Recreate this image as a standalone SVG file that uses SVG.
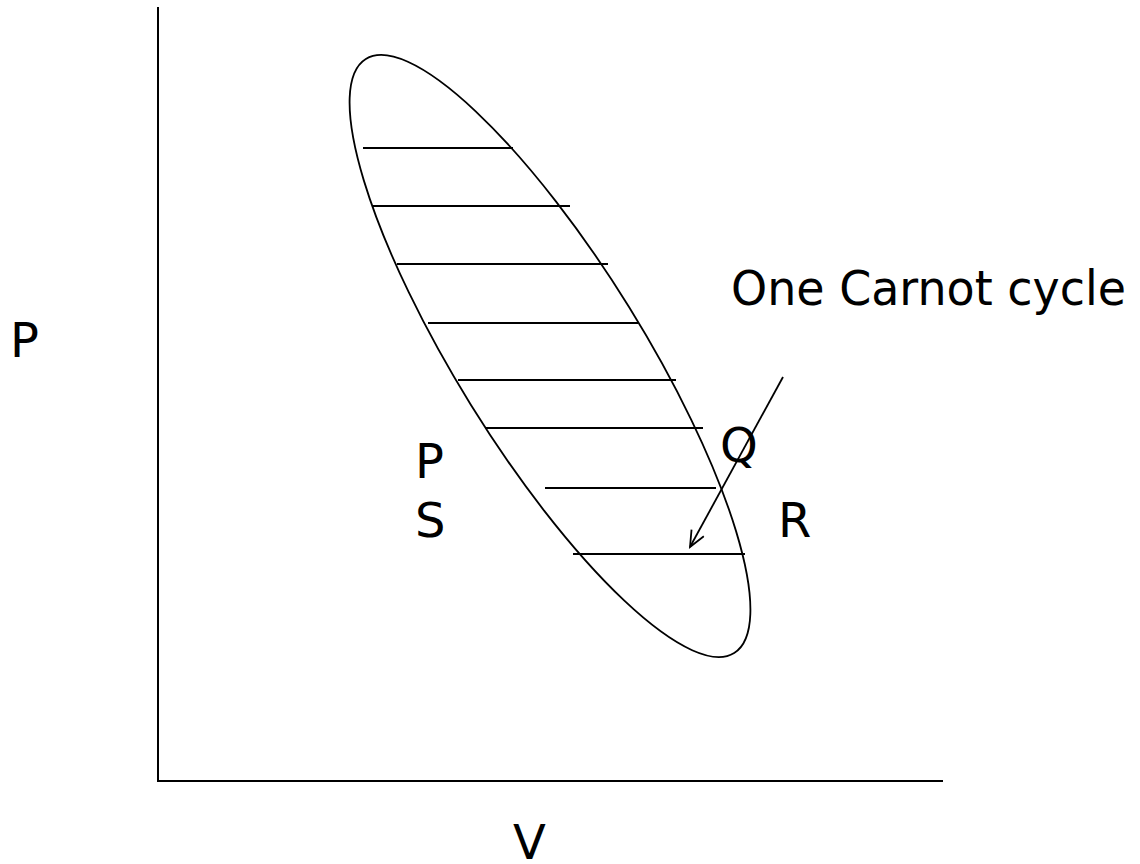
<svg xmlns="http://www.w3.org/2000/svg" width="1140" height="864" viewBox="0 0 1140 864">
<style>
.ln{stroke:#000;stroke-width:2;fill:none}
.th{stroke:#000;stroke-width:1.8;fill:none}
.t{font-family:"DejaVu Sans","Liberation Sans",sans-serif;font-size:48px;fill:#000}
</style>
<defs>
<marker id="arr" markerWidth="20" markerHeight="20" refX="17" refY="8" orient="auto" markerUnits="userSpaceOnUse">
<path d="M1,1 L17,8 L1,15" fill="none" stroke="#000" stroke-width="1.8"/>
</marker>
</defs>
<rect width="1140" height="864" fill="#fff"/>
<g id="axes">
<line class="ln" x1="158" y1="7" x2="158" y2="781"/>
<line class="ln" x1="157" y1="781" x2="943" y2="781"/>
</g>
<g id="cycle">
<ellipse class="th" cx="550" cy="356" rx="349.5" ry="93" transform="rotate(58.2 550 356)"/>
<line class="ln" x1="363" y1="148" x2="513" y2="148"/>
<line class="ln" x1="373" y1="206" x2="570" y2="206"/>
<line class="ln" x1="397" y1="264" x2="608" y2="264"/>
<line class="ln" x1="428" y1="323" x2="638" y2="323"/>
<line class="ln" x1="458" y1="380" x2="676" y2="380"/>
<line class="ln" x1="485" y1="428" x2="703" y2="428"/>
<line class="ln" x1="545" y1="488" x2="716" y2="488"/>
<line class="ln" x1="573" y1="554" x2="745" y2="554"/>
</g>
<g id="connectors">
<line class="th" x1="783" y1="377" x2="690" y2="547" marker-end="url(#arr)"/>
</g>
<g id="labels">
<text class="t" x="10" y="357">P</text>
<text class="t" x="513" y="859">V</text>
<text class="t" x="415" y="478">P</text>
<text class="t" x="415" y="537">S</text>
<text class="t" x="720" y="462">Q</text>
<text class="t" x="778" y="537">R</text>
<text class="t" x="731" y="305" textLength="395" lengthAdjust="spacingAndGlyphs">One Carnot cycle</text>
</g>
</svg>
